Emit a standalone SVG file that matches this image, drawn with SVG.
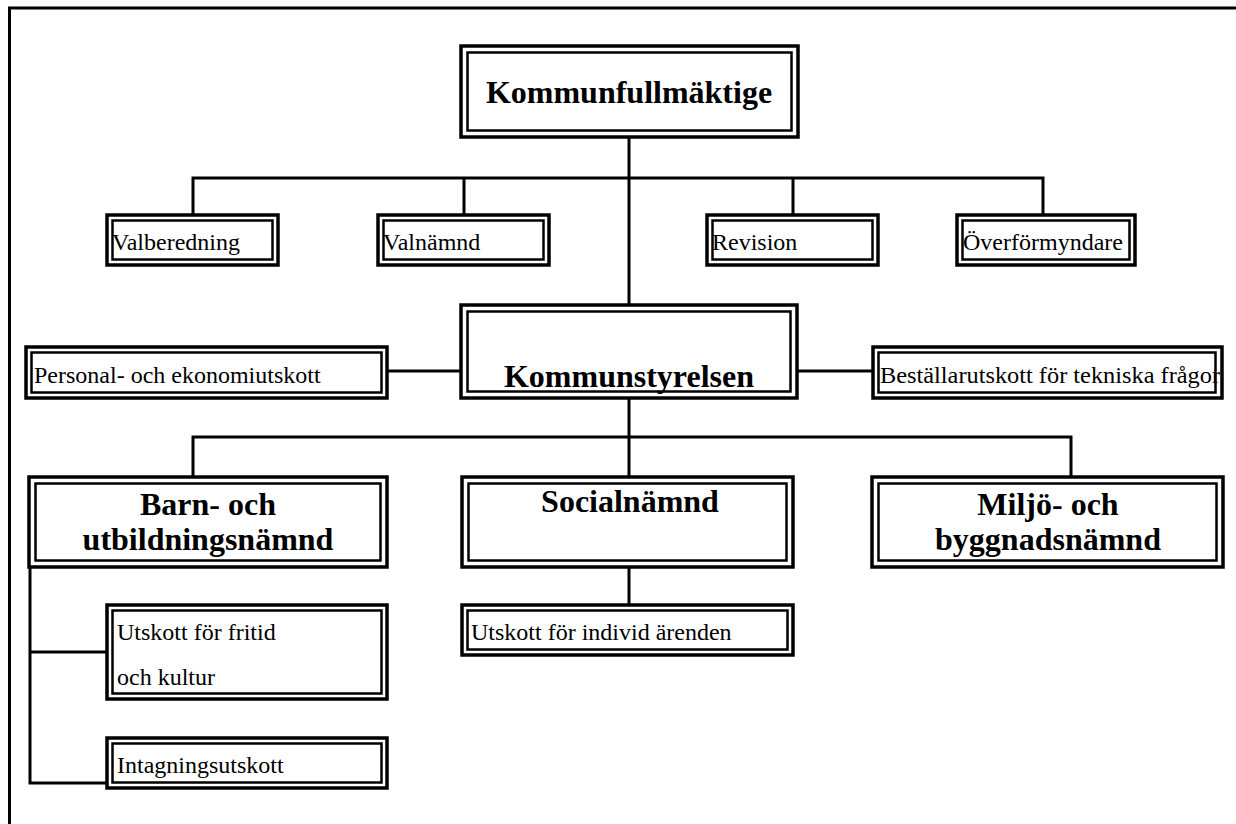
<svg xmlns="http://www.w3.org/2000/svg" width="1236" height="824" viewBox="0 0 1236 824">
<style>
.o{fill:#fff;stroke:#000;stroke-width:3.5}
.i{fill:none;stroke:#000;stroke-width:2.5}
.c{fill:none;stroke:#000;stroke-width:3}
.b{font-family:"Liberation Serif","Times New Roman",serif;font-weight:bold;font-size:32px;fill:#000;text-anchor:middle}
.t{font-family:"Liberation Serif","Times New Roman",serif;font-size:24px;fill:#000}
</style>
<rect width="1236" height="824" fill="#fff"/>
<path d="M9.5,824 V8 H1236" fill="none" stroke="#000" stroke-width="3"/>
<g id="connectors">
<path class="c" d="M629,137 V305 M629,398 V437"/>
<path class="c" d="M193,215 V178 H1043 V215 M464,178 V215 M793,178 V215"/>
<path class="c" d="M387,371 H461 M797,371 H873"/>
<path class="c" d="M193,477 V437 H1071 V477 M629,437 V477"/>
<path class="c" d="M629,567 V605"/>
<path class="c" d="M30,567 V783 H107 M30,652 H107"/>
</g>
<g id="kommunfullmaktige">
<rect class="o" x="461" y="46" width="337" height="91"/>
<rect class="i" x="467.5" y="52.5" width="324" height="78"/>
<text class="b" x="629" y="103">Kommunfullmäktige</text>
</g>
<g id="valberedning">
<rect class="o" x="107" y="215" width="171" height="50"/>
<rect class="i" x="112.5" y="220.5" width="160" height="39"/>
<text class="t" x="112" y="250">Valberedning</text>
</g>
<g id="valnamnd">
<rect class="o" x="378" y="215" width="171" height="50"/>
<rect class="i" x="383.5" y="220.5" width="160" height="39"/>
<text class="t" x="383" y="250">Valnämnd</text>
</g>
<g id="revision">
<rect class="o" x="707" y="215" width="171" height="50"/>
<rect class="i" x="712.5" y="220.5" width="160" height="39"/>
<text class="t" x="712" y="250">Revision</text>
</g>
<g id="overformyndare">
<rect class="o" x="957" y="215" width="178" height="50"/>
<rect class="i" x="962.5" y="220.5" width="167" height="39"/>
<text class="t" x="963" y="250">Överförmyndare</text>
</g>
<g id="kommunstyrelsen">
<rect class="o" x="461" y="305" width="336" height="93"/>
<rect class="i" x="467.5" y="311.5" width="323" height="80"/>
<text class="b" x="629" y="387">Kommunstyrelsen</text>
</g>
<g id="personal">
<rect class="o" x="26" y="347" width="361" height="51"/>
<rect class="i" x="31.5" y="352.5" width="350" height="40"/>
<text class="t" x="34" y="383">Personal- och ekonomiutskott</text>
</g>
<g id="bestallar">
<rect class="o" x="873" y="347" width="349" height="51"/>
<text class="t" x="880" y="383" textLength="340" lengthAdjust="spacingAndGlyphs">Beställarutskott för tekniska frågor</text>
<rect class="i" x="878.5" y="352.5" width="337" height="40"/>
</g>
<g id="barn">
<rect class="o" x="29" y="477" width="358" height="90"/>
<rect class="i" x="35.5" y="483.5" width="345" height="77"/>
<text class="b" x="208" y="515">Barn- och</text>
<text class="b" x="208" y="550">utbildningsnämnd</text>
</g>
<g id="socialnamnd">
<rect class="o" x="462" y="477" width="331" height="90"/>
<rect class="i" x="468.5" y="483.5" width="318" height="77"/>
<text class="b" x="630" y="512">Socialnämnd</text>
</g>
<g id="miljo">
<rect class="o" x="872" y="477" width="351" height="90"/>
<rect class="i" x="878.5" y="483.5" width="338" height="77"/>
<text class="b" x="1048" y="515">Miljö- och</text>
<text class="b" x="1048" y="550">byggnadsnämnd</text>
</g>
<g id="fritid">
<rect class="o" x="107" y="605" width="280" height="94"/>
<rect class="i" x="112.5" y="610.5" width="269" height="83"/>
<text class="t" x="117" y="640">Utskott för fritid</text>
<text class="t" x="117" y="685">och kultur</text>
</g>
<g id="intagning">
<rect class="o" x="107" y="738" width="280" height="50"/>
<rect class="i" x="112.5" y="743.5" width="269" height="39"/>
<text class="t" x="117" y="773">Intagningsutskott</text>
</g>
<g id="individ">
<rect class="o" x="462" y="605" width="331" height="50"/>
<rect class="i" x="467.5" y="610.5" width="320" height="39"/>
<text class="t" x="471" y="640">Utskott för individ ärenden</text>
</g>
</svg>
